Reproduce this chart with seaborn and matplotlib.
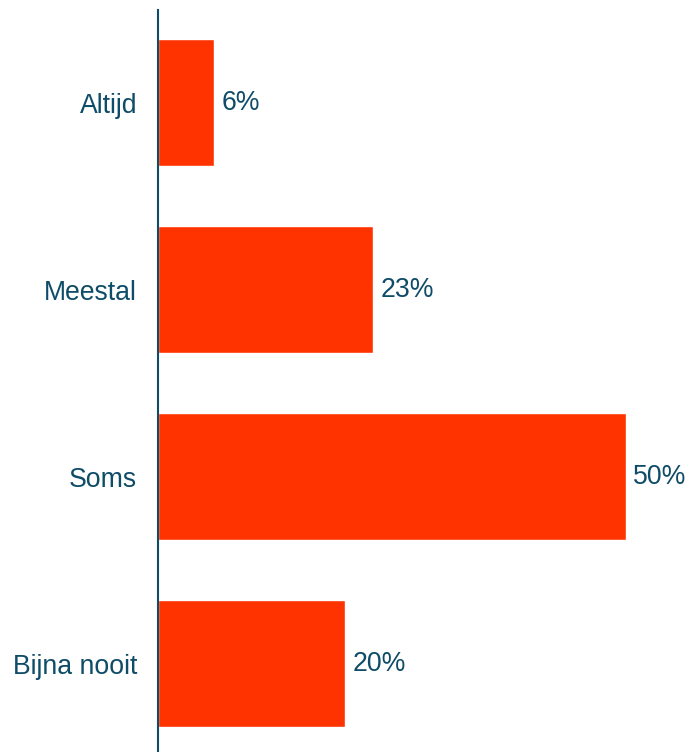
import pandas as pd
import seaborn as sns
import matplotlib.pyplot as plt

# data
categories = ['Altijd', 'Meestal', 'Soms', 'Bijna nooit']
percentages = [6, 23, 50, 20]

df = pd.DataFrame({'Antwoord': categories, 'Percentage': percentages})

text_color = '#0F4C68'
bar_color = '#FF3300'

sns.set_theme(style='white')
plt.rcParams['font.family'] = ['Liberation Sans', 'DejaVu Sans']

fig = plt.figure(figsize=(6.89, 7.52), dpi=100)
ax = fig.add_axes([158 / 689, 0, 1 - 158 / 689, 742 / 752])

sns.barplot(data=df, x='Percentage', y='Antwoord', order=categories,
            color=bar_color, saturation=1, width=0.675, ax=ax)

for container in ax.containers:
    ax.bar_label(container, labels=[f'{v}%' for v in percentages],
                 padding=5, fontsize=19.2, color=text_color)

ax.set_xlim(0, 56.7)
ax.set_ylim(3.473, -0.495)

ax.set_xlabel('')
ax.set_ylabel('')
ax.set_xticks([])
ax.tick_params(axis='y', length=0, pad=15, labelsize=19.2, labelcolor=text_color)

for side in ['top', 'right', 'bottom']:
    ax.spines[side].set_visible(False)
ax.spines['left'].set_color(text_color)
ax.spines['left'].set_linewidth(1.5)

plt.savefig('out.png', dpi=100)
